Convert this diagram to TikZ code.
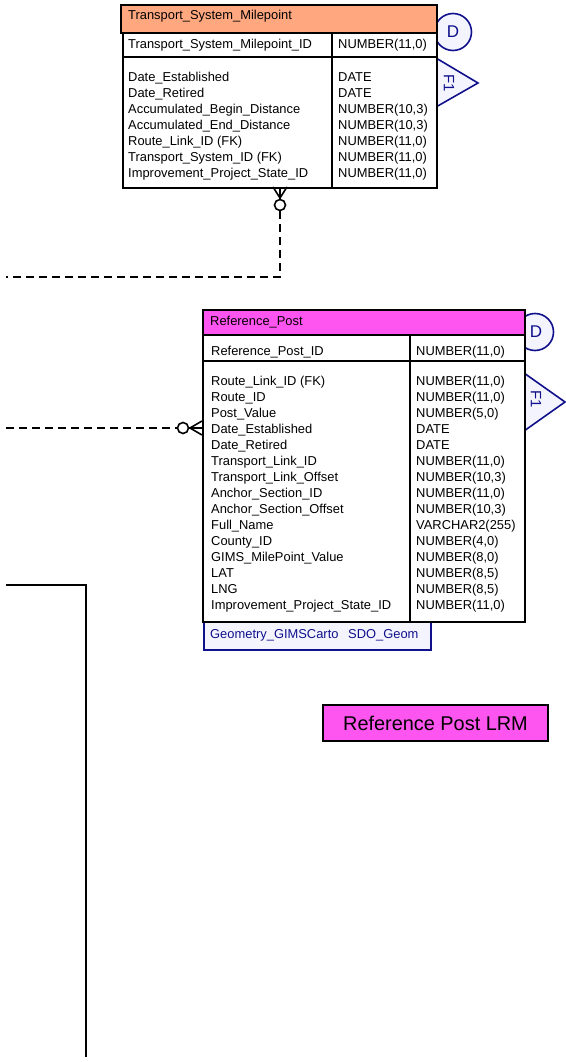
\documentclass[tikz,border=0pt]{standalone}
\usepackage{fontspec}
\setmainfont{Liberation Sans}
\usetikzlibrary{positioning}
\definecolor{tsmorange}{HTML}{FFA880}
\definecolor{rpmagenta}{HTML}{FF55F0}
\definecolor{tagnavy}{HTML}{10108C}
\definecolor{taglav}{HTML}{F4F4FF}

\begin{document}
\begin{tikzpicture}[
    x=1pt, y=-1pt,
    font=\fontsize{12.9}{16}\selectfont,
    tbl/.style={draw, line width=2pt, fill=white, inner sep=0pt, anchor=north west},
    col/.style={anchor=base west, inner sep=0pt},
    tagshape/.style={draw=tagnavy, fill=taglav, line width=1.6pt},
    tagtxt/.style={text=tagnavy, inner sep=0pt},
    optcirc/.style={draw, circle, fill=white, line width=1.6pt, minimum size=11pt, inner sep=0pt},
    rel/.style={line width=1.8pt, dash pattern=on 8pt off 5pt},
    foot/.style={line width=1.6pt}
]
  \useasboundingbox (0,0) rectangle (565,1062);

  % tags behind the tables
  \node[tagshape, circle, minimum size=37pt, inner sep=0pt] (tsmd) at (453,32) {};
  \node[tagtxt, font=\fontsize{17}{19}\selectfont] (tsmdtxt) at (453,32) {D};
  \draw[tagshape] (436,58) -- (478,83) -- (436,107) -- cycle;
  \node[tagtxt, rotate=-90, font=\fontsize{15}{17}\selectfont] (tsmf1) at (449,83) {F1};

  \node[tagshape, circle, minimum size=37pt, inner sep=0pt] (rpd) at (535,332) {};
  \node[tagtxt, font=\fontsize{17}{19}\selectfont] (rpdtxt) at (536,332) {D};
  \draw[tagshape] (524,373) -- (565,402) -- (524,431) -- cycle;
  \node[tagtxt, rotate=-90, font=\fontsize{15}{17}\selectfont] (rpf1) at (536,399) {F1};

  \node[tagshape, line width=2pt, inner sep=0pt, minimum width=227pt, minimum height=31pt, anchor=north west] (rpgeo) at (203,618) {};
  \node[col, text=tagnavy] (rpgeoa) at (210,638.6) {Geometry\_GIMSCarto};
  \node[col, text=tagnavy] (rpgeob) at (348,638.6) {SDO\_Geom};

  % Transport_System_Milepoint
  \node[tbl, fill=tsmorange, minimum width=316pt, minimum height=28pt] (tsmhead) at (120,4) {};
  \node[tbl, minimum width=314pt, minimum height=155pt] (tsmbody) at (122,32) {};
  \draw[line width=2pt] (122,57) -- (436,57);
  \draw[line width=2pt] (332,32) -- (332,187);
  \node[col] (tsmtitle) at (128,19.6) {Transport\_System\_Milepoint};
  \node[col] (tsmkey) at (128,49) {Transport\_System\_Milepoint\_ID};
  \node[col] (tsmkeyt) at (338,49) {NUMBER(11,0)};
  \foreach \fname/\ftype [count=\i from 0] in {Date\_Established/DATE, Date\_Retired/DATE,
      Accumulated\_Begin\_Distance/{NUMBER(10,3)}, Accumulated\_End\_Distance/{NUMBER(10,3)},
      Route\_Link\_ID (FK)/{NUMBER(11,0)}, Transport\_System\_ID (FK)/{NUMBER(11,0)},
      Improvement\_Project\_State\_ID/{NUMBER(11,0)}}{
    \node[col] (tsmn\i) at (128,{81.3+16*\i}) {\fname};
    \node[col] (tsmt\i) at (338,{81.3+16*\i}) {\ftype};
  }

  % Reference_Post
  \node[tbl, fill=rpmagenta, minimum width=322pt, minimum height=25pt] (rphead) at (202,309) {};
  \node[tbl, minimum width=322pt, minimum height=287pt] (rpbody) at (202,334) {};
  \draw[line width=2pt] (202,361) -- (524,361);
  \draw[line width=2pt] (410,334) -- (410,621);
  \node[col] (rptitle) at (210,325.6) {Reference\_Post};
  \node[col] (rpkey) at (211,355.3) {Reference\_Post\_ID};
  \node[col] (rpkeyt) at (416,355.3) {NUMBER(11,0)};
  \foreach \fname/\ftype [count=\i from 0] in {Route\_Link\_ID (FK)/{NUMBER(11,0)}, Route\_ID/{NUMBER(11,0)},
      Post\_Value/{NUMBER(5,0)}, Date\_Established/DATE, Date\_Retired/DATE,
      Transport\_Link\_ID/{NUMBER(11,0)}, Transport\_Link\_Offset/{NUMBER(10,3)},
      Anchor\_Section\_ID/{NUMBER(11,0)}, Anchor\_Section\_Offset/{NUMBER(10,3)},
      Full\_Name/{VARCHAR2(255)}, County\_ID/{NUMBER(4,0)}, GIMS\_MilePoint\_Value/{NUMBER(8,0)},
      LAT/{NUMBER(8,5)}, LNG/{NUMBER(8,5)}, Improvement\_Project\_State\_ID/{NUMBER(11,0)}}{
    \node[col] (rpn\i) at (211,{385.3+16*\i}) {\fname};
    \node[col] (rpt\i) at (416,{385.3+16*\i}) {\ftype};
  }

  \node[draw, line width=2pt, fill=rpmagenta, minimum width=225pt, minimum height=36pt,
        font=\fontsize{19.9}{22}\selectfont] (lrm) at (435.5,723) {Reference Post LRM};

  % relationships
  \coordinate (tsmfk) at (280,187);
  \node[optcirc] (tsmo) at (280,205) {};
  \draw[foot] (273,187) -- (280,198) -- (287,187);
  \draw[foot] (tsmfk) -- (tsmo.north);
  \coordinate (lft1) at (6,277);
  \draw[rel] (tsmo.south) |- (lft1);

  \coordinate (rpfk) at (202,428);
  \node[optcirc] (rpo) at (183,428) {};
  \draw[foot] (202,421) -- (190,428) -- (202,435);
  \draw[foot] (rpo.east) -- (rpfk);
  \coordinate (lft2) at (6,428);
  \draw[rel] (lft2) -- (rpo.west);

  \coordinate (lft3) at (6,585);
  \coordinate (bot3) at (86,1057);
  \draw[line width=2pt] (lft3) -| (bot3);
\end{tikzpicture}
\end{document}
